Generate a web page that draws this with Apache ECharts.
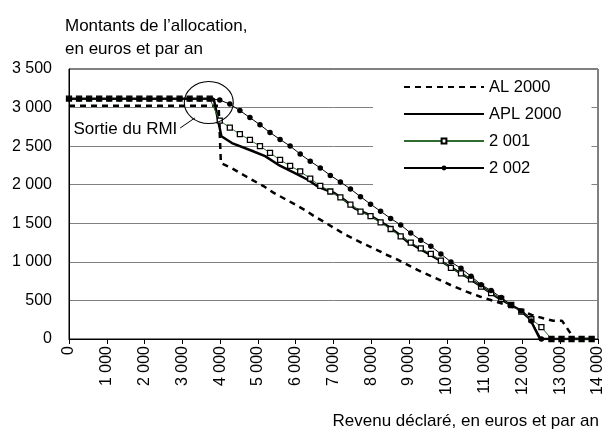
<!DOCTYPE html>
<html>
<head>
<meta charset="utf-8">
<script src="https://cdn.jsdelivr.net/npm/echarts@6/dist/echarts.min.js"></script>
<style>html,body{margin:0;padding:0;background:#fff}#c{width:606px;height:437px}</style>
</head>
<body>
<div id="c"></div>
<script>
// ---- data ----
const seriesNames = ['AL 2000', 'APL 2000', '2 001', '2 002'];
// incomes (euros/yr) for the marker series 2001 / 2002
const incomes = [0,266,532,798,1064,1330,1596,1862,2128,2394,2660,2926,3192,3458,3724,3990,4256,4522,4788,5054,5320,5586,5852,6118,6384,6650,6916,7182,7448,7714,7980,8246,8512,8778,9044,9310,9576,9842,10108,10374,10640,10906,11172,11438,11704,11970,12236,12502,12768,13034,13300,13566,13832];
const values2001 = [3115,3115,3115,3115,3115,3115,3115,3115,3115,3115,3115,3115,3115,3115,3115,2830,2741,2655,2580,2500,2413,2321,2245,2172,2080,1985,1912,1837,1741,1652,1594,1511,1426,1331,1249,1175,1104,1015,922,850,774,680,594,520,441,355,256,155,0,0,0,0,0];
const values2002 = [3115,3115,3115,3115,3115,3115,3115,3115,3115,3115,3115,3115,3115,3115,3115,3098,3045,2961,2870,2777,2676,2587,2501,2398,2304,2218,2121,2036,1945,1845,1748,1656,1563,1479,1373,1281,1202,1103,999,916,813,704,628,538,442,363,232,0,0,0,0,0,0];
// APL 2000 (solid line) breakpoints
const aplIncome = [0,3830,4033,4312,4838,5190,5540,5979,6329,6592,7031,7294,7557,7907,8170,8433,8696,8959,9792,10581,11412,11938,12201,12464,13832];
const aplValue  = [3115,3115,2628,2540,2440,2370,2258,2150,2061,1974,1889,1802,1694,1620,1543,1465,1370,1261,1024,787,515,376,259,0,0];
// AL 2000 (dashed line) breakpoints
const alIncome = [0,3960,4020,4312,4620,4883,5146,5409,5716,5979,6242,6505,6768,7031,7294,7599,7862,8170,8414,8696,9222,9748,10097,10536,10886,11238,11588,11938,12245,12553,12816,13050,13376,13832];
const alValue  = [3025,3025,2280,2213,2126,2052,1983,1897,1815,1746,1672,1586,1513,1435,1357,1283,1219,1150,1089,1028,895,780,700,610,548,493,441,376,311,268,237,235,0,0];
// annotation
const rmiExit = { income: 3700, amount: 3066, label: 'Sortie du RMI' };
const rmiLabelAt = [1491, 2716];
const rmiLeader = [[2942, 2735], [3330, 2865]];
const yAxisTitle = ['Montants de l\u2019allocation,', 'en euros et par an'];
const xAxisTitle = 'Revenu déclaré, en euros et par an';
const xTicks = { min: 0, max: 14000, step: 1000 };
const yTicks = { min: 0, max: 3500, step: 500 };

// ---- chart ----
const FONT = "'Liberation Sans', Arial, sans-serif";
const fmt = v => String(v).replace(/\B(?=(\d{3})+(?!\d))/g, ' ');
const zip = (xs, ys) => xs.map((x, i) => [x, ys[i]]);

const chart = echarts.init(document.getElementById('c'), null, { renderer: 'canvas' });
chart.setOption({
  animation: false,
  backgroundColor: '#fff',
  title: [
    { text: yAxisTitle.join('\n'), left: 60, top: 10,
      textStyle: { fontFamily: FONT, fontSize: 17, fontWeight: 'normal', color: '#000', lineHeight: 23 } },
    { text: xAxisTitle, right: 2, top: 408,
      textStyle: { fontFamily: FONT, fontSize: 17, fontWeight: 'normal', color: '#000' } }
  ],
  legend: {
    orient: 'vertical', left: 373, top: 72,
    padding: [6, 30, 20, 30],
    backgroundColor: '#fff',
    itemWidth: 80, itemHeight: 6, itemGap: 9,
    textStyle: { fontFamily: FONT, fontSize: 16.5, color: '#000', lineHeight: 18 },
    data: [
      { name: seriesNames[0], itemStyle: { opacity: 0 } },
      { name: seriesNames[1], itemStyle: { opacity: 0 } },
      { name: seriesNames[2] },
      { name: seriesNames[3] }
    ]
  },
  grid: { left: 69, right: 4, top: 69, bottom: 98, show: true, borderColor: '#000', borderWidth: 1 },
  xAxis: {
    type: 'value', min: xTicks.min, max: xTicks.max, interval: xTicks.step,
    axisLine: { lineStyle: { color: '#000', width: 1 } },
    axisTick: { show: true, length: 5, lineStyle: { color: '#000' } },
    splitLine: { show: false },
    axisLabel: { rotate: 90, margin: 7, fontFamily: FONT, fontSize: 16, color: '#000', formatter: fmt }
  },
  yAxis: {
    type: 'value', min: yTicks.min, max: yTicks.max, interval: yTicks.step,
    axisLine: { show: true, lineStyle: { color: '#000', width: 1 } },
    axisTick: { show: false },
    splitLine: { show: true, lineStyle: { color: '#808080', width: 1 } },
    axisLabel: { margin: 17, fontFamily: FONT, fontSize: 16, color: '#000', formatter: fmt }
  },
  series: [
    { name: seriesNames[0], type: 'line', data: zip(alIncome, alValue), showSymbol: false, symbol: 'none',
      lineStyle: { color: '#000', width: 2.5, type: [6, 5] }, itemStyle: { color: '#000' } },
    { name: seriesNames[1], type: 'line', data: zip(aplIncome, aplValue), showSymbol: false, symbol: 'none',
      lineStyle: { color: '#000', width: 2.5 }, itemStyle: { color: '#000' },
      markLine: { silent: true, symbol: ['none', 'none'], label: { show: false },
        lineStyle: { color: '#000', width: 1, type: 'solid' },
        data: [[{ coord: rmiLeader[0] }, { coord: rmiLeader[1] }]] },
      markPoint: { silent: true, data: [
        { coord: [rmiExit.income, rmiExit.amount], symbol: 'circle', symbolSize: [49, 42],
          itemStyle: { color: 'rgba(0,0,0,0)', borderColor: '#000', borderWidth: 1 }, label: { show: false } },
        { coord: rmiLabelAt, symbol: 'circle', symbolSize: 1, itemStyle: { color: 'rgba(0,0,0,0)' },
          label: { show: true, position: 'inside', formatter: rmiExit.label, fontFamily: FONT, fontSize: 17, color: '#000' } }
      ] } },
    { name: seriesNames[2], type: 'line', data: zip(incomes, values2001), symbol: 'rect', symbolSize: 5, showAllSymbol: true,
      lineStyle: { color: '#2f6b2f', width: 1 }, itemStyle: { color: '#fff', borderColor: '#000', borderWidth: 1.3 } },
    { name: seriesNames[3], type: 'line', data: zip(incomes, values2002), symbol: 'circle', symbolSize: 5.5, showAllSymbol: true,
      lineStyle: { color: '#000', width: 1 }, itemStyle: { color: '#000' } }
  ]
});
</script>
</body>
</html>
